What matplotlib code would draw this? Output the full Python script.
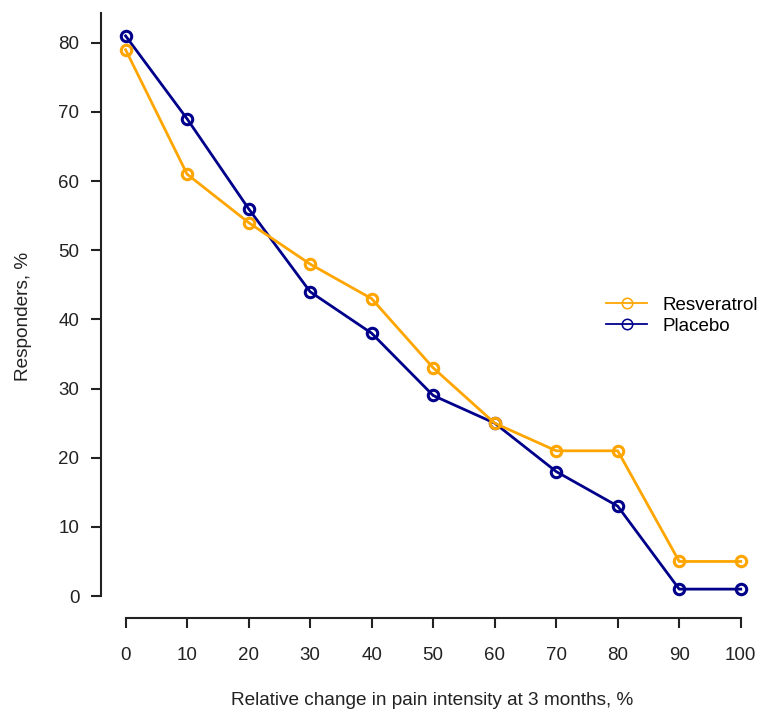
import matplotlib
matplotlib.use("Agg")
import matplotlib.pyplot as plt

change_pct = [0, 10, 20, 30, 40, 50, 60, 70, 80, 90, 100]
resveratrol = [79, 61, 54, 48, 43, 33, 25, 21, 21, 5, 5]
placebo = [81, 69, 56, 44, 38, 29, 25, 18, 13, 1, 1]

plt.rcParams['font.family'] = ['Liberation Sans', 'DejaVu Sans']

fig = plt.figure(figsize=(7.61, 7.13), dpi=100)
ax = fig.add_axes([0.1327, 0.1332, 0.873, 0.8485])

ax.plot(change_pct, resveratrol, color='#FFA500', lw=2.0, marker='o',
        ms=7.5, mfc='none', mew=2.2, label='Resveratrol', zorder=3)
ax.plot(change_pct, placebo, color='#00008B', lw=2.0, marker='o',
        ms=7.5, mfc='none', mew=2.2, label='Placebo', zorder=2)

ax.set_xlim(-4, 104)
ax.set_ylim(-3.18, 84.3)
ax.spines['top'].set_visible(False)
ax.spines['right'].set_visible(False)
ax.spines['left'].set_bounds(0, 84.3)
ax.spines['bottom'].set_bounds(0, 100)
for s in ('left', 'bottom'):
    ax.spines[s].set_linewidth(1.5)
    ax.spines[s].set_color('#222222')

ax.set_xticks(change_pct)
ax.set_yticks(range(0, 81, 10))
ax.tick_params(length=7.5, width=1.5, color='#222222', labelsize=13.5, labelcolor='#222222')
ax.tick_params(axis='x', pad=13.5)
ax.tick_params(axis='y', pad=8)

ax.set_xlabel('Relative change in pain intensity at 3 months, %', fontsize=13.7,
              color='#222222')
ax.set_ylabel('Responders, %', fontsize=13.7, color='#222222')
ax.xaxis.set_label_coords(0.499, -0.122)
ax.yaxis.set_label_coords(-0.1045, 0.499)

leg = ax.legend(loc='center left', bbox_to_anchor=(0.735, 0.5), frameon=False,
                fontsize=13.5, handlelength=2.2, handletextpad=0.8, labelspacing=0.2)
for h in leg.legend_handles:
    h.set_linewidth(1.3)
    h.set_markeredgewidth(1.1)

fig.savefig('out.png', dpi=100)
